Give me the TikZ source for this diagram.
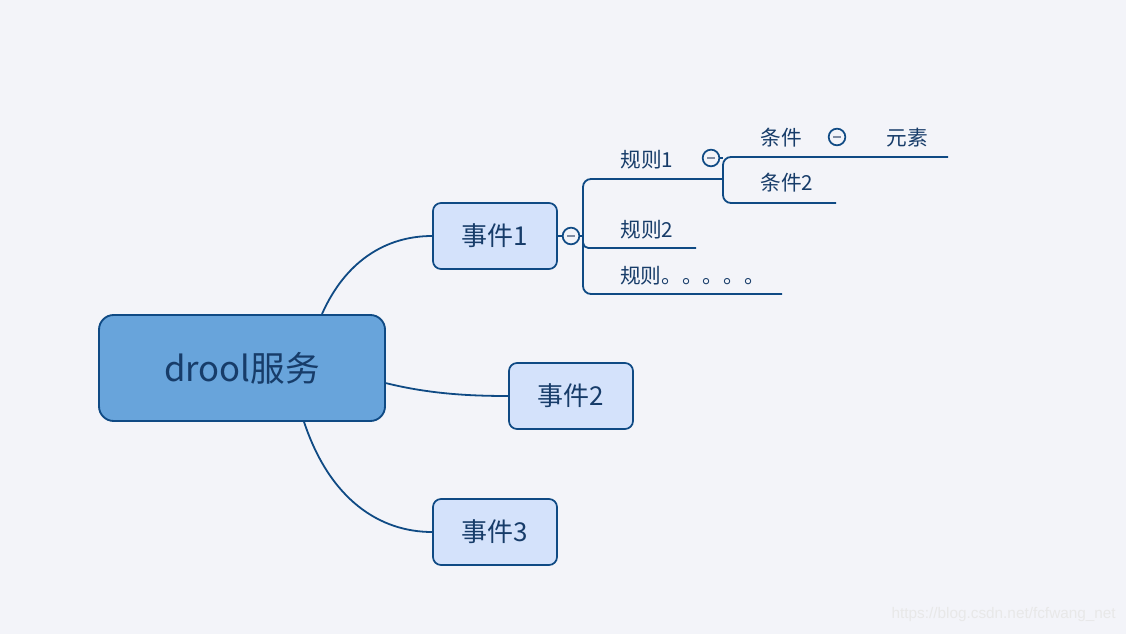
\documentclass[tikz,border=0pt]{standalone}
\usepackage{fontspec}
\setmainfont{Noto Sans CJK SC}
\newfontfamily\wmfont{Liberation Sans}
\definecolor{bgc}{HTML}{F3F4F9}
\definecolor{linec}{HTML}{0F4A84}
\definecolor{txtc}{HTML}{173C69}
\definecolor{rootfill}{HTML}{68A4DB}
\definecolor{subfill}{HTML}{D4E2FB}
\definecolor{dashc}{HTML}{7F8CA3}
\begin{document}
\begin{tikzpicture}[x=0.75pt,y=-0.75pt,
  rootbox/.style={draw=linec,line width=1.4pt,fill=rootfill,rounded corners=11pt,
    minimum width=214.5pt,minimum height=79.5pt,inner sep=0pt,text=txtc,
    font=\fontsize{26}{30}\selectfont},
  subbox/.style={draw=linec,line width=1.3pt,fill=subfill,rounded corners=6pt,
    minimum width=93pt,minimum height=49.5pt,inner sep=0pt,text=txtc,
    font=\fontsize{19.5}{22}\selectfont},
  leaf/.style={text=txtc,inner sep=0pt,font=\fontsize{15.5}{18}\selectfont},
  conn/.style={draw=linec,line width=1.35pt},
  fold/.style={circle,draw=linec,line width=1.3pt,fill=bgc,minimum size=12.5pt,inner sep=0pt,
    path picture={\draw[dashc,line width=1.1pt] ([xshift=-3pt]path picture bounding box.center) -- ([xshift=3pt]path picture bounding box.center);}}
]
\fill[bgc] (0,0) rectangle (1126,634);
\useasboundingbox (0,0) rectangle (1126,634);

% main nodes
\node[rootbox] (root) at (242,368) {drool服务};
\node[subbox] (e1) at (495,236) {事件1};
\node[subbox] (e2) at (571,396) {事件2};
\node[subbox] (e3) at (495,532) {事件3};

% curved connectors
\draw[conn] (root.34) .. controls (345,262) and (385,236) .. (e1.west);
\draw[conn] (root.-6) .. controls (430,394) and (470,396) .. (e2.west);
\draw[conn] (root.-41) .. controls (330,500) and (380,532) .. (e3.west);

% fold circles
\node[fold] (c1) at (571,236) {};
\node[fold] (c2) at (711,158) {};
\node[fold] (c3) at (837,137) {};
\draw[conn] (e1.east) -- (c1.west);

% branch coordinates
\coordinate (b1) at (583,236);
\coordinate (r1end) at (723,179);
\coordinate (r2end) at (696,248);
\coordinate (r3end) at (782,294);
\coordinate (k1end) at (948,157);
\coordinate (k2end) at (836,203);

\draw[conn] (c1.east) -- (b1);
\draw[conn,rounded corners=6pt] (r1end) -- (583,179) -- (583,294) -- (r3end);
\draw[conn,rounded corners=4pt] (583,238) -- (583,248) -- (r2end);
\draw[conn,rounded corners=6pt] (k1end) -- (723,157) -- (723,203) -- (k2end);
\draw[conn] (c2.east) -- (723,158);

% leaf labels
\node[leaf] (r1) at (647,160) {规则1};
\node[leaf] (r2) at (647,230) {规则2};
\node[leaf,anchor=west] (r3) at (620,276) {规则。。。。。};
\node[leaf] (k1) at (781,138) {条件};
\node[leaf] (k2) at (787,183) {条件2};
\node[leaf] (k3) at (907,138) {元素};

% watermark
\node[anchor=east,inner sep=0pt,text=white!82!gray,font=\wmfont\fontsize{11.5}{13}\selectfont] (wm) at (1116,615) {https://blog.csdn.net/fcfwang\_net};
\end{tikzpicture}
\end{document}
